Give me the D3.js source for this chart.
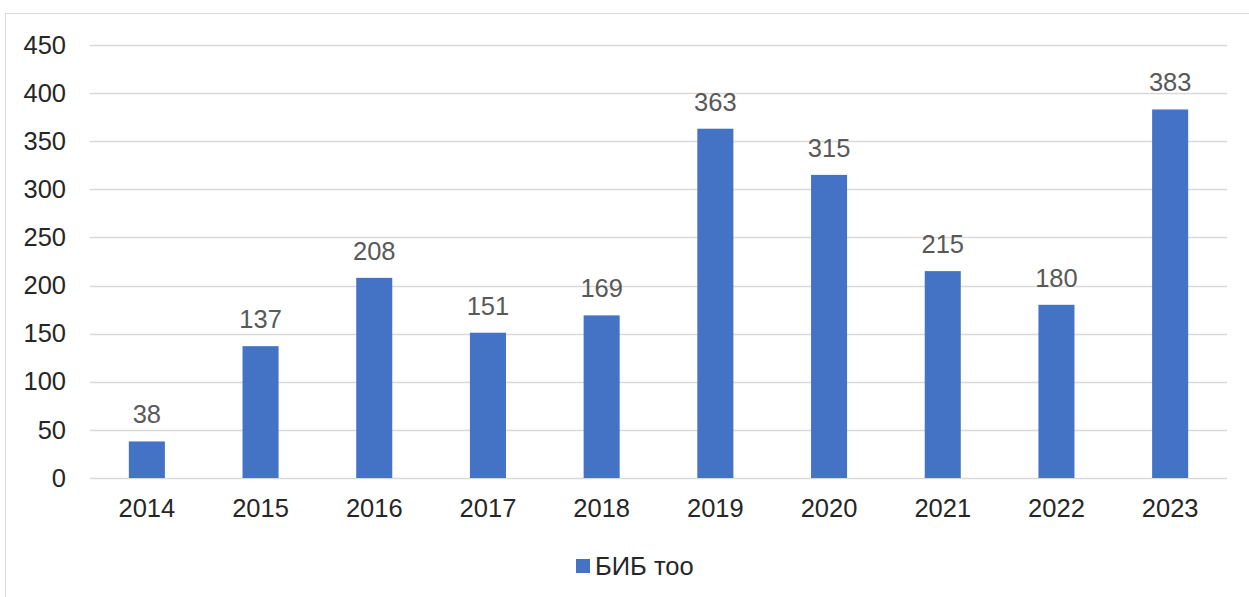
<!DOCTYPE html>
<html>
<head>
<meta charset="utf-8">
<script src="https://cdn.jsdelivr.net/npm/d3@7"></script>
<style>
  html, body { margin: 0; padding: 0; background: #fff; }
  svg { display: block; font-family: Arial, "Liberation Sans", sans-serif; }
</style>
</head>
<body>
<script>
const years = ["2014","2015","2016","2017","2018","2019","2020","2021","2022","2023"];
const values = [38, 137, 208, 151, 169, 363, 315, 215, 180, 383];
const yTicks = [0, 50, 100, 150, 200, 250, 300, 350, 400, 450];
const seriesName = "БИБ тоо";

(function () {
const W = 1249, H = 597;
const svg = d3.select("body").append("svg").attr("width", W).attr("height", H);

// outer frame
svg.append("rect").attr("x", 5.5).attr("y", 13.5).attr("width", W + 10).attr("height", H + 10)
  .attr("fill", "none").attr("stroke", "#d9d9d9").attr("stroke-width", 1);

const pLeft = 90, pRight = 1227, pTop = 45, pBottom = 478;
const x = d3.scaleBand().domain(years).range([pLeft, pRight]).paddingInner(0.683).paddingOuter(0.3415);
const y = d3.scaleLinear().domain([0, 450]).range([pBottom, pTop]);

// gridlines
svg.append("g").selectAll("line").data(yTicks).join("line")
  .attr("x1", pLeft).attr("x2", pRight)
  .attr("y1", d => Math.round(y(d)) + 0.5).attr("y2", d => Math.round(y(d)) + 0.5)
  .attr("stroke", "#d9d9d9").attr("stroke-width", 1.5);

// y axis labels
const yAxis = d3.axisLeft(y).tickValues(yTicks).tickSize(0).tickPadding(0);
const gy = svg.append("g").attr("transform", "translate(66,0)").call(yAxis);
gy.select(".domain").remove();
gy.selectAll("text").attr("font-size", "25.5px").attr("fill", "#262626")
  .attr("font-family", "Arial, 'Liberation Sans', sans-serif");

// bars
svg.append("g").selectAll("rect").data(values).join("rect")
  .attr("x", (d, i) => x(years[i]))
  .attr("width", x.bandwidth())
  .attr("y", d => y(d))
  .attr("height", d => y(0) - y(d))
  .attr("fill", "#4472c4");

// value labels
svg.append("g").selectAll("text").data(values).join("text")
  .attr("x", (d, i) => x(years[i]) + x.bandwidth() / 2)
  .attr("y", d => y(d) - 18)
  .attr("text-anchor", "middle")
  .attr("font-size", "25.5px").attr("fill", "#595959")
  .text(d => d);

// x axis labels
const xAxis = d3.axisBottom(x).tickSize(0).tickPadding(0);
const gx = svg.append("g").attr("transform", `translate(0,${pBottom + 21})`).call(xAxis);
gx.select(".domain").remove();
gx.selectAll("text").attr("font-size", "25.5px").attr("fill", "#262626")
  .attr("font-family", "Arial, 'Liberation Sans', sans-serif");

// legend
const lg = svg.append("g");
lg.append("rect").attr("x", 576).attr("y", 559).attr("width", 14).attr("height", 14).attr("fill", "#4472c4");
lg.append("text").attr("x", 595).attr("y", 575).attr("font-size", "25.5px").attr("fill", "#262626").text(seriesName);
})();
</script>
</body>
</html>
